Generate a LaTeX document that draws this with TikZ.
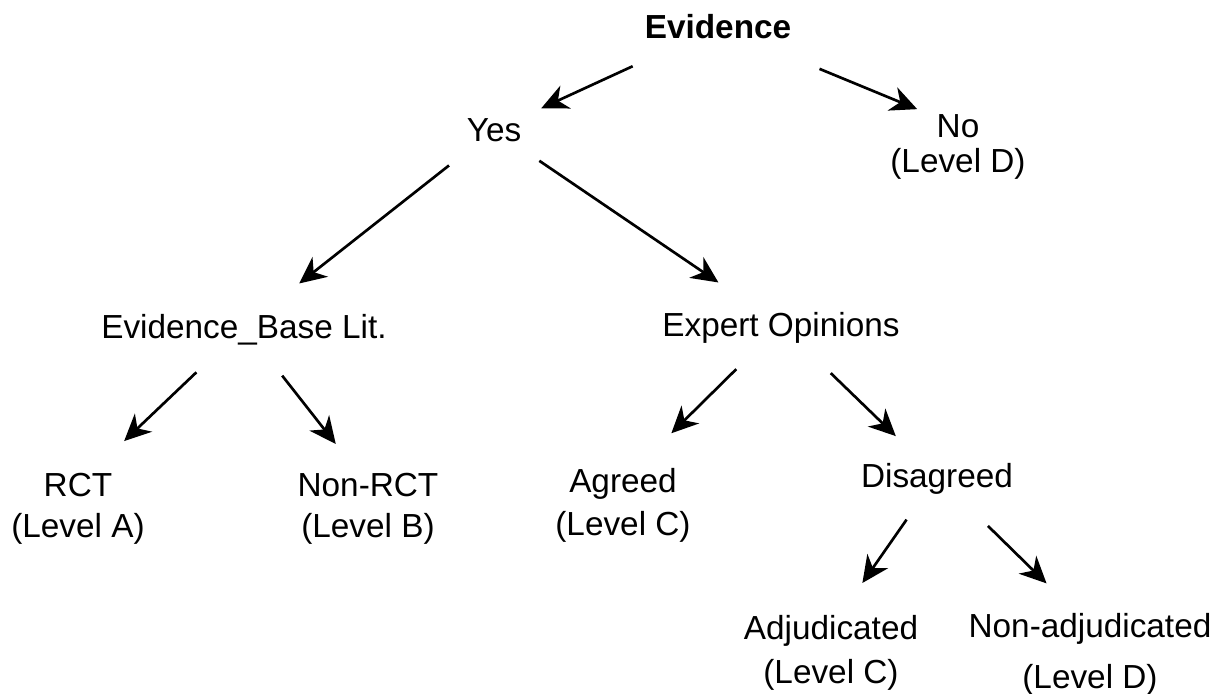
\documentclass[tikz,border=0pt]{standalone}
\usepackage{fontspec}
\setmainfont{Liberation Sans}
\usetikzlibrary{arrows.meta}
\usetikzlibrary{calc}

\tikzset{
	txt/.style={inner sep=0pt, text height=9pt, text depth=2pt, font=\fontsize{10}{12}\selectfont},
	arrow/.style={-{Stealth[length=8pt, width=7.5pt, inset=2.5pt]}, line width=0.8pt}
}

\begin{document}
\begin{tikzpicture}[x=0.3pt, y=-0.3pt]
	% Fix the page size (one unit = one pixel of the original)
	\useasboundingbox (0,0) rectangle (1218,694);
	\fill[white] (0,0) rectangle (1218,694);

	% Root and first split
	\node[txt, font=\fontsize{10}{12}\selectfont\bfseries] (ev) at (718,27) {Evidence};
	\node[txt] (yes) at (494,130) {Yes};
	\node[txt, label={[txt, label distance=-0.8pt]below:(Level D)}] (no) at (958,126) {No};

	% Kinds of evidence
	\node[txt] (ebl) at (244,327) {Evidence\_Base Lit.};
	\node[txt] (exp) at (781,325) {Expert Opinions};

	% Leaves under the literature branch
	\node[txt, label={[txt, label distance=1pt]below:(Level A)}] (rct) at (78,485) {RCT};
	\node[txt, label={[txt, label distance=1pt]below:(Level B)}] (nrct) at (368,485) {Non-RCT};

	% Leaves under the expert branch
	\node[txt, label={[txt, label distance=1.6pt]below:(Level C)}] (agr) at (623,481) {Agreed};
	\node[txt] (dis) at (937,476) {Disagreed};
	\node[txt, label={[txt, label distance=1.9pt]below:(Level C)}] (adj) at (831,628) {Adjudicated};
	\node[txt, label={[txt, label distance=4pt]below:(Level D)}] (nadj) at (1090,626) {Non-adjudicated};

	% Arrows: parent / child / start and end as fractions of the centre line
	\foreach \from/\to/\s/\e in {ev/yes/0.381/0.789, ev/no/0.423/0.83,
		yes/ebl/0.18/0.779, yes/exp/0.158/0.782,
		ebl/rct/0.287/0.722, ebl/nrct/0.308/0.74,
		exp/agr/0.283/0.694, exp/dis/0.319/0.736,
		dis/adj/0.287/0.704, dis/nadj/0.333/0.716} {
		\draw[arrow] ($(\from)!\s!(\to)$) -- ($(\from)!\e!(\to)$);
	}
\end{tikzpicture}
\end{document}
